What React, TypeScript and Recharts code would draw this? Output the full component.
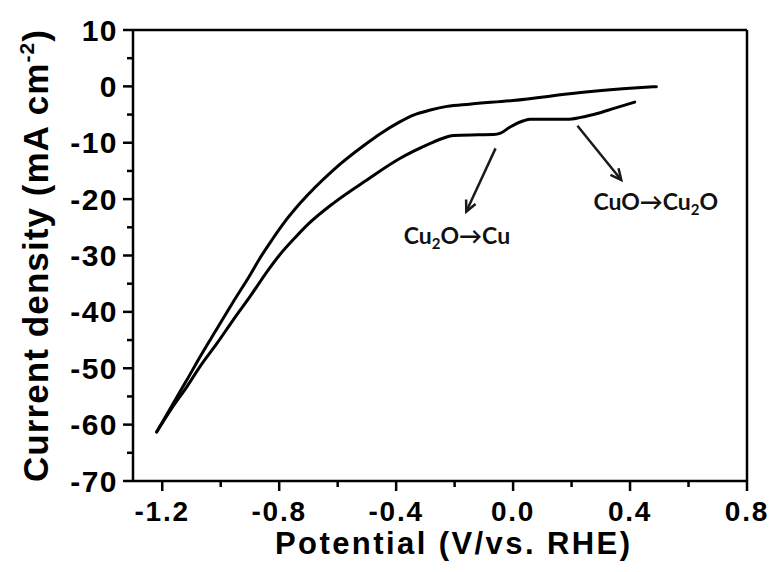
import React from 'react';
import { LineChart, Line, XAxis, YAxis, ReferenceLine, ReferenceDot } from 'recharts';

// Cathodic (forward) sweep, listed from -1.22 V up to +0.42 V (the scan runs right-to-left)
const forwardPotential = [-1.219, -1.17, -1.116, -1.071, -1.013, -0.957, -0.9, -0.842, -0.8, -0.745, -0.7, -0.614, -0.5, -0.386, -0.34, -0.283, -0.24, -0.204, -0.12, -0.067, -0.043, -0.01, 0.036, 0.06, 0.185, 0.231, 0.288, 0.345, 0.416];
const forwardCurrent = [-61.3, -57.3, -53.3, -49.7, -45.6, -41.4, -37.3, -32.9, -30.0, -26.8, -24.4, -20.7, -16.6, -12.76, -11.5, -10.1, -9.2, -8.7, -8.6, -8.55, -8.3, -7.2, -6.1, -5.85, -5.85, -5.5, -4.8, -3.9, -2.8];

// Anodic (return) sweep: from -1.22 V back up to +0.49 V
const reversePotential = [-1.219, -1.17, -1.116, -1.071, -1.013, -0.957, -0.899, -0.865, -0.825, -0.785, -0.728, -0.614, -0.5, -0.454, -0.386, -0.341, -0.283, -0.226, -0.15, 0.0, 0.231, 0.413, 0.49];
const reverseCurrent = [-61.3, -56.9, -52.1, -48.0, -43.0, -38.2, -33.4, -30.4, -27.25, -24.3, -20.7, -14.8, -10.1, -8.4, -6.26, -5.1, -4.2, -3.55, -3.15, -2.5, -1.1, -0.28, -0.05];

const xTicks = [-1.2, -1.0, -0.8, -0.6, -0.4, -0.2, 0.0, 0.2, 0.4, 0.6, 0.8];
const xMajorTicks = [-1.2, -0.8, -0.4, 0.0, 0.4, 0.8];
const yTicks = [10, 5, 0, -5, -10, -15, -20, -25, -30, -35, -40, -45, -50, -55, -60, -65, -70];
const yMajorTicks = [10, 0, -10, -20, -30, -40, -50, -60, -70];

// annotation arrows: [startX, startY, endX, endY]
const arrowCu2OtoCu = [-0.06, -11.0, -0.16, -22.2];
const arrowCuOtoCu2O = [0.22, -7.0, 0.37, -16.6];
// annotation label anchors
const labelCu2OtoCu = [-0.192, -26.7];
const labelCuOtoCu2O = [0.488, -20.7];

const forwardData = forwardPotential.map((x, i) => ({ x, y: forwardCurrent[i] }));
const reverseData = reversePotential.map((x, i) => ({ x, y: reverseCurrent[i] }));

const isMajor = (v: number, list: number[]) => list.some((m) => Math.abs(m - v) < 1e-6);
const FONT = '"Liberation Sans", Arial, sans-serif';

const XTick = (props: any) => {
  const { x, y, payload } = props;
  const major = isMajor(payload.value, xMajorTicks);
  return (
    <g>
      <line x1={x} x2={x} y1={y} y2={y + (major ? 10 : 6)} stroke="#000" strokeWidth={2.5} />
      {major && (
        <text x={x} y={y + 40} textAnchor="middle" fontFamily={FONT} fontWeight="bold" fontSize={28} letterSpacing={1.8} fill="#000">
          {Number(payload.value).toFixed(1)}
        </text>
      )}
    </g>
  );
};

const YTick = (props: any) => {
  const { x, y, payload } = props;
  const major = isMajor(payload.value, yMajorTicks);
  return (
    <g>
      <line x1={x} x2={x - (major ? 10 : 6)} y1={y} y2={y} stroke="#000" strokeWidth={2.5} />
      {major && (
        <text x={x - 15} y={y + 10.5} textAnchor="end" fontFamily={FONT} fontWeight="bold" fontSize={30} letterSpacing={1.5} fill="#000">
          {String(payload.value)}
        </text>
      )}
    </g>
  );
};

const ArrowShape = (props: any) => {
  const { x1, y1, x2, y2 } = props;
  if ([x1, y1, x2, y2].some((v) => typeof v !== 'number')) return null;
  const ang = Math.atan2(y2 - y1, x2 - x1);
  const L = 12;
  const spread = 0.45;
  const ax = x2 - L * Math.cos(ang - spread);
  const ay = y2 - L * Math.sin(ang - spread);
  const bx = x2 - L * Math.cos(ang + spread);
  const by = y2 - L * Math.sin(ang + spread);
  return (
    <g>
      <line x1={x1} y1={y1} x2={x2} y2={y2} stroke="#1a1a1a" strokeWidth={2.5} />
      <polyline points={`${ax},${ay} ${x2},${y2} ${bx},${by}`} fill="none" stroke="#1a1a1a" strokeWidth={2.5} />
    </g>
  );
};

const ChemLabel = (parts: { pre: string; sub: string; post: string }) => (props: any) => {
  const { cx, cy } = props;
  return (
    <text x={cx} y={cy + 7} textAnchor="middle" fontFamily="Lato, 'Open Sans', sans-serif" fontWeight="bold" fontSize={23} fill="#111">
      <tspan>{parts.pre}</tspan>
      <tspan fontSize={15} dy={5}>{parts.sub}</tspan>
      <tspan dy={-5}>{parts.post}</tspan>
    </text>
  );
};

export default function App() {
  return (
    <div style={{ position: 'absolute', left: 0, top: 0, width: 778, height: 572, background: '#fff' }}>
      <LineChart width={778} height={572} margin={{ top: 30, right: 31, left: 0, bottom: 0 }}>
        <XAxis
          dataKey="x"
          type="number"
          domain={[-1.3, 0.8]}
          ticks={xTicks}
          interval={0}
          tickSize={0}
          tickMargin={0}
          tickLine={false}
          tick={<XTick />}
          height={91}
          axisLine={{ stroke: '#000', strokeWidth: 2.5 }}
          allowDataOverflow
          allowDuplicatedCategory={false}
        />
        <YAxis
          type="number"
          domain={[-70, 10]}
          ticks={yTicks}
          interval={0}
          tickSize={0}
          tickMargin={0}
          tickLine={false}
          tick={<YTick />}
          width={133}
          axisLine={{ stroke: '#000', strokeWidth: 2.5 }}
          allowDataOverflow
        />
        <ReferenceLine y={10} stroke="#000" strokeWidth={2.5} />
        <ReferenceLine x={0.8} stroke="#000" strokeWidth={2.5} />
        <Line data={forwardData} dataKey="y" type="monotone" stroke="#000" strokeWidth={3} dot={false} isAnimationActive={false} strokeLinejoin="round" strokeLinecap="round" />
        <Line data={reverseData} dataKey="y" type="monotone" stroke="#000" strokeWidth={3} dot={false} isAnimationActive={false} strokeLinejoin="round" strokeLinecap="round" />
        <ReferenceLine
          segment={[{ x: arrowCu2OtoCu[0], y: arrowCu2OtoCu[1] }, { x: arrowCu2OtoCu[2], y: arrowCu2OtoCu[3] }]}
          shape={ArrowShape}
        />
        <ReferenceLine
          segment={[{ x: arrowCuOtoCu2O[0], y: arrowCuOtoCu2O[1] }, { x: arrowCuOtoCu2O[2], y: arrowCuOtoCu2O[3] }]}
          shape={ArrowShape}
        />
        <ReferenceDot x={labelCu2OtoCu[0]} y={labelCu2OtoCu[1]} r={0} shape={ChemLabel({ pre: 'Cu', sub: '2', post: 'O→Cu' })} />
        <ReferenceDot x={labelCuOtoCu2O[0]} y={labelCuOtoCu2O[1]} r={0} shape={ChemLabel({ pre: 'CuO→Cu', sub: '2', post: 'O' })} />
        <text x={452.5} y={554} textAnchor="middle" fontFamily={FONT} fontWeight="bold" fontSize={31} textLength={355} lengthAdjust="spacing" fill="#000">
          Potential (V/vs. RHE)
        </text>
        <text transform="translate(48,256) rotate(-90)" x={0} y={0} textAnchor="middle" fontFamily={FONT} fontWeight="bold" fontSize={35} textLength={452} lengthAdjust="spacing" fill="#000">
          <tspan>Current density (mA cm</tspan>
          <tspan fontSize={21} dy={-14}>-2</tspan>
          <tspan dy={14}>)</tspan>
        </text>
      </LineChart>
    </div>
  );
}
